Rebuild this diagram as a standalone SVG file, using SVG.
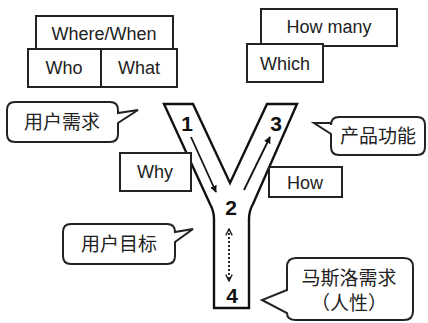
<svg xmlns="http://www.w3.org/2000/svg" width="428" height="323" viewBox="0 0 428 323">
<style>
.box{fill:#fff;stroke:#222;stroke-width:2}
.t{font-family:"Liberation Sans",Arial,sans-serif;font-size:18px;fill:#222;text-anchor:middle}
.c{font-family:"Noto Sans CJK SC","Liberation Sans",sans-serif;font-size:19px;fill:#222;text-anchor:middle}
.n{font-family:"Liberation Sans",Arial,sans-serif;font-size:21px;font-weight:bold;fill:#111;text-anchor:middle}
.y{fill:#fff;stroke:#111;stroke-width:2.4;stroke-linejoin:miter}
.ar{stroke:#111;stroke-width:1.8;fill:none}
</style>
<defs>
<marker id="ah" viewBox="0 0 10 10" refX="9" refY="5" markerWidth="7" markerHeight="7" orient="auto" markerUnits="userSpaceOnUse">
<path d="M0,0 L10,5 L0,10 Z" fill="#111"/>
</marker>
<marker id="ch" viewBox="0 0 10 10" refX="9" refY="5" markerWidth="8" markerHeight="8" orient="auto-start-reverse" markerUnits="userSpaceOnUse">
<path d="M1,1 L9,5 L1,9" fill="none" stroke="#111" stroke-width="1.6"/>
</marker>
</defs>
<rect width="428" height="323" fill="#fff"/>
<g id="y-shape">
<path class="y" d="M164,104 L193,104 L230,183 L267,104 L297,104 L253,204 Q249,211 249,219 L249,308 L214,308 L214,219 Q214,211 210,204 Z"/>
<text class="n" x="187" y="131">1</text>
<text class="n" x="276" y="131">3</text>
<text class="n" x="231" y="215">2</text>
<text class="n" x="232" y="303">4</text>
</g>
<g id="connectors">
<line class="ar" x1="191" y1="137" x2="216" y2="192" marker-end="url(#ah)"/>
<line class="ar" x1="244" y1="190" x2="270" y2="137" marker-end="url(#ah)"/>
<line class="ar" x1="229" y1="229" x2="229" y2="281" stroke-dasharray="2,2" marker-start="url(#ch)" marker-end="url(#ch)"/>
</g>
<g id="where-when"><rect class="box" x="36" y="16" width="137" height="33"/><text class="t" x="104" y="40">Where/When</text></g>
<g id="who"><rect class="box" x="28" y="49" width="73" height="38"/><text class="t" x="64" y="74">Who</text></g>
<g id="what"><rect class="box" x="101" y="49" width="76" height="38"/><text class="t" x="139" y="74">What</text></g>
<g id="how-many"><rect class="box" x="261" y="9" width="136" height="37"/><text class="t" x="329" y="33">How many</text></g>
<g id="which"><rect class="box" x="247" y="44" width="76" height="38"/><text class="t" x="285" y="70">Which</text></g>
<g id="why"><rect class="box" x="120" y="153" width="71" height="38"/><text class="t" x="155" y="178">Why</text></g>
<g id="how"><rect class="box" x="269" y="167" width="73" height="30"/><text class="t" x="305" y="189">How</text></g>
<g id="user-need">
<path class="box" d="M15,102 H110 Q118,102 118,110 V113 L138,110 L118,123 V134 Q118,142 110,142 H15 Q7,142 7,134 V110 Q7,102 15,102 Z"/>
<text class="c" x="62" y="129">用户需求</text>
</g>
<g id="product-func">
<path class="box" d="M339,117 H417 Q425,117 425,125 V147 Q425,155 417,155 H339 Q331,155 331,147 V134 L314,123 L331,123 V125 Q331,117 339,117 Z"/>
<text class="c" x="378" y="143">产品功能</text>
</g>
<g id="user-goal">
<path class="box" d="M71,224 H167 Q175,224 175,232 L193,229 L175,242 V256 Q175,264 167,264 H71 Q63,264 63,256 V232 Q63,224 71,224 Z"/>
<text class="c" x="119" y="251">用户目标</text>
</g>
<g id="maslow">
<path class="box" d="M296,258 H404 Q413,258 413,267 V311 Q413,320 404,320 H296 Q287,320 287,313 L262,300 L287,290 V267 Q287,258 296,258 Z"/>
<text class="c" x="349" y="285">马斯洛需求</text>
<text class="c" x="349" y="310">（人性）</text>
</g>
</svg>
